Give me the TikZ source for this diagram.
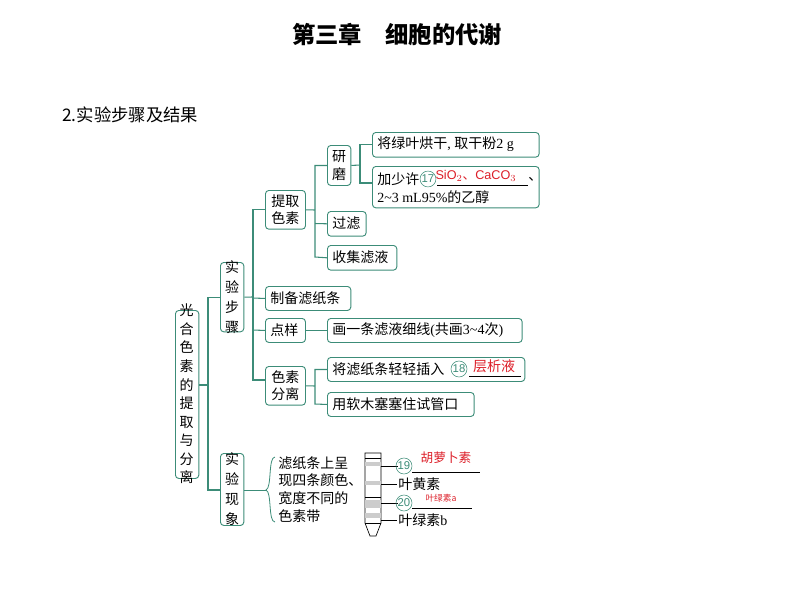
\documentclass[tikz,border=0pt]{standalone}
\usepackage{fontspec}
\setmainfont{Liberation Serif}
\newfontfamily\cjk{Noto Sans CJK SC}
\newfontfamily\lsans{Liberation Sans}
\definecolor{tl}{RGB}{60,140,120}
\definecolor{ans}{RGB}{220,30,40}
\begin{document}
\begin{tikzpicture}[x=0.75pt,y=-0.75pt,
 bx/.style={draw=tl,rounded corners=2.5pt,line width=0.7pt,inner sep=0pt},
 tx/.style={font=\cjk\fontsize{10.5}{12.5}\selectfont,anchor=west,inner sep=0pt,align=left},
 ln/.style={draw=tl,line width=0.8pt},
 num/.style={circle,draw=tl,text=tl,inner sep=0.3pt,font=\lsans\fontsize{8.5}{9}\selectfont,minimum size=11.5pt}]
\useasboundingbox (0,0) rectangle (794,593);
\node[font=\cjk\bfseries\fontsize{17.5}{19}\selectfont] (title) at (397,35) {第三章\quad 细胞的代谢};
\node[tx,font=\cjk\fontsize{13}{14}\selectfont] (sec) at (62,115) {2.实验步骤及结果};
% boxes
\node[bx,anchor=north west,minimum width=17.5pt,minimum height=126pt] (root) at (175,310) {};
\node[font=\cjk\fontsize{10.5}{13.9}\selectfont,align=center] (roott) at (186.5,394) {光\\合\\色\\素\\的\\提\\取\\与\\分\\离};
\node[bx,anchor=north west,minimum width=17.5pt,minimum height=52pt] (syb) at (220,262) {};
\node[font=\cjk\fontsize{10.5}{15}\selectfont,align=center] at (syb) {实\\验\\步\\骤};
\node[bx,anchor=north west,minimum width=17.5pt,minimum height=54pt] (xx) at (220,453) {};
\node[font=\cjk\fontsize{10.5}{15}\selectfont,align=center] at (xx) {实\\验\\现\\象};
\node[bx,anchor=north west,minimum width=30pt,minimum height=29pt] (tq) at (265,190) {};
\node[font=\cjk\fontsize{10.5}{13}\selectfont,align=center] at (tq) {提取\\色素};
\node[bx,anchor=north west,minimum width=64pt,minimum height=18pt] (zb) at (265,286) {};
\node[tx] at (270,298) {制备滤纸条};
\node[bx,anchor=north west,minimum width=30pt,minimum height=18pt] (dy) at (265,318) {};
\node[tx] at (270,330) {点样};
\node[bx,anchor=north west,minimum width=30pt,minimum height=29pt] (fl) at (265,366) {};
\node[font=\cjk\fontsize{10.5}{13}\selectfont,align=center] at (fl) {色素\\分离};
\node[bx,anchor=north west,minimum width=17.5pt,minimum height=30pt] (ym) at (327,145) {};
\node[font=\cjk\fontsize{10.5}{13}\selectfont,align=center] at (ym) {研\\磨};
\node[bx,anchor=north west,minimum width=29pt,minimum height=18.5pt] (gl) at (327,211) {};
\node[tx] at (332,223.5) {过滤};
\node[bx,anchor=north west,minimum width=52pt,minimum height=18.5pt] (sj) at (327,245) {};
\node[tx] at (332,257.5) {收集滤液};
\node[bx,anchor=north west,minimum width=125pt,minimum height=18.5pt] (hg) at (372,132) {};
\node[tx] at (377,144.5) {将绿叶烘干\rmfamily, \cjk 取干粉\rmfamily 2 g};
\node[bx,anchor=north west,minimum width=125pt,minimum height=31pt] (js) at (372,166) {};
\node[tx] at (377,179) {加少许};
\node[num] (n17) at (428,179) {17};
\node[font=\lsans\fontsize{9.5}{10}\selectfont,text=ans] (a17) at (476,176) {SiO$_2$\cjk 、\lsans CaCO$_3$};
\draw (437,185) -- (528,185);
\node[tx] at (528,179) {、};
\node[tx] at (377,197) {\rmfamily 2\textasciitilde 3 mL95\%\cjk 的乙醇};
\node[bx,anchor=north west,minimum width=146pt,minimum height=18pt] (hx) at (327,318) {};
\node[tx] at (332,330) {画一条滤液细线\rmfamily(\cjk 共画\rmfamily 3\textasciitilde 4\cjk 次\rmfamily)};
\node[bx,anchor=north west,minimum width=148pt,minimum height=18pt] (cr) at (327,357) {};
\node[tx] at (332,369) {将滤纸条轻轻插入};
\node[num] (n18) at (459,369) {18};
\node[font=\cjk\fontsize{10.5}{11}\selectfont,text=ans] (a18) at (494,366) {层析液};
\draw (469,376) -- (521,376);
\node[bx,anchor=north west,minimum width=110pt,minimum height=18pt] (rm) at (327,392) {};
\node[tx] at (332,404) {用软木塞塞住试管口};
% connectors
\draw[ln] (root.east |- 0,385) -- (208,385);
\draw[ln] (syb.west) -| (208,490) -- (xx.west |- 0,490);
\draw[ln] (syb.east) -- (253,297);
\draw[ln] (tq.west) -| (253,380) -- (fl.west |- 0,380);
\draw[ln] (zb.west) -- (253,298);
\draw[ln] (dy.west) -- (253,330);
\draw[ln] (tq.east) -- (315,210);
\draw[ln] (ym.west) -| (315,257) -- (sj.west);
\draw[ln] (gl.west) -- (315,223.5);
\draw[ln] (ym.east) -- (360,165);
\draw[ln] (hg.west) -| (360,183) -- (js.west |- 0,183);
\draw[ln] (dy.east) -- (hx.west);
\draw[ln] (fl.east) -- (315,386);
\draw[ln] (cr.west) -| (315,404) -- (rm.west);
% brace
\draw[tl,line width=0.6pt] (244,490) -- (266,490);
\draw[tl,line width=0.6pt] (275,457) .. controls (268,457) and (272,488) .. (266,490) .. controls (272,492) and (268,522) .. (275,522);
\node[font=\cjk\fontsize{10.5}{13.3}\selectfont,align=left,anchor=north west,inner sep=0pt] (obs) at (278,456) {滤纸条上呈\\现四条颜色、\\宽度不同的\\色素带};
% strip
\draw[line width=0.5pt] (365,453) -- (365,523) -- (370,536) -- (376,536) -- (381,523) -- (381,453) -- cycle;
\fill[gray!40] (365,462) rectangle (381,466);
\fill[gray!40] (365,481) rectangle (381,485);
\fill[gray!40] (365,500) rectangle (381,508);
\fill[gray!40] (365,513) rectangle (381,518);
\draw[line width=0.6pt] (365,458)--(381,458) (365,497)--(381,497) (365,523)--(381,523);
\draw[line width=0.4pt] (381,466) -- (398,466);
\node[num] (n19) at (404,466) {19};
\draw (412,472) -- (480,472);
\node[font=\cjk\fontsize{9.5}{10}\selectfont,text=ans] (a19) at (446,458) {胡萝卜素};
\draw[line width=0.4pt] (381,484) -- (397,484);
\node[tx] at (398,484) {叶黄素};
\draw[line width=0.4pt] (381,503) -- (398,503);
\node[num] (n20) at (404,503) {20};
\draw (412,508) -- (472,508);
\node[font=\cjk\fontsize{6.5}{7}\selectfont,text=ans] (a20) at (441,498) {叶绿素a};
\draw[line width=0.4pt] (381,520) -- (397,520);
\node[tx] at (398,520) {叶绿素\rmfamily b};
\end{tikzpicture}
\end{document}
